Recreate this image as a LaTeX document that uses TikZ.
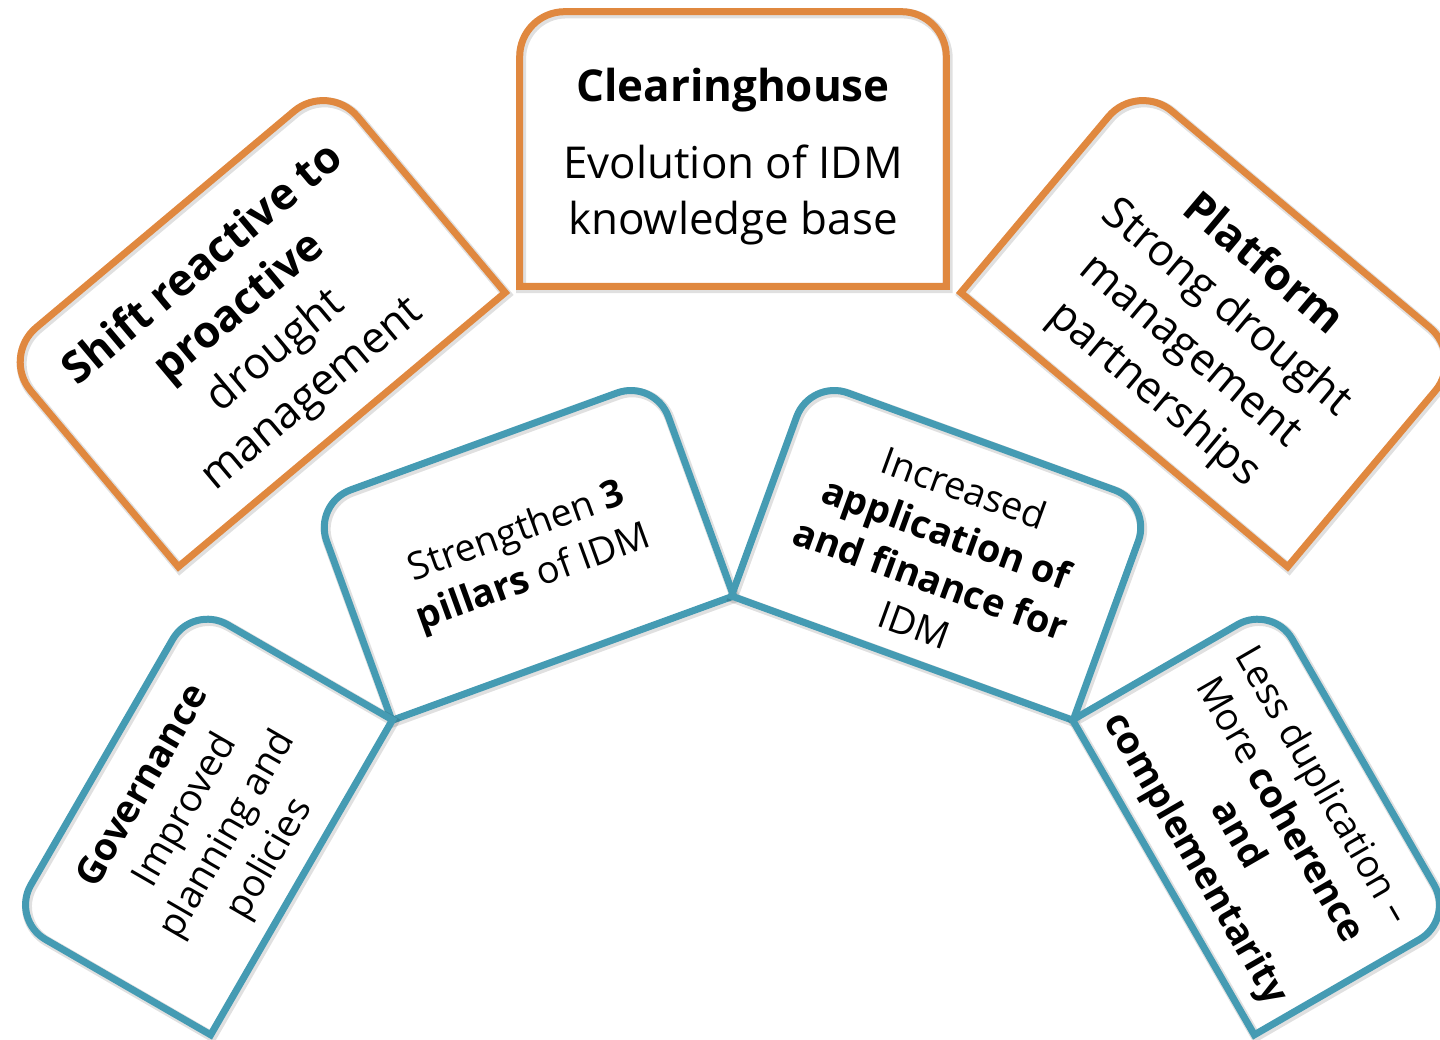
\documentclass[tikz,border=0pt]{standalone}
\usepackage{fontspec}
\setmainfont{Open Sans}
\definecolor{cardorange}{HTML}{E0883F}
\definecolor{cardblue}{HTML}{459BB3}
\newcommand{\toplift}{\rule{0pt}{1.1em}}

\begin{document}
\begin{tikzpicture}[
    x=0.02cm, y=-0.02cm,
    every node/.style={align=center, inner sep=0pt, text=black},
    bigcard/.style={minimum width=8.52cm, minimum height=5.48cm, font=\fontsize{25}{32}\selectfont},
    smallcard/.style={minimum width=7.26cm, minimum height=4.6cm, font=\fontsize{21.6}{27.7}\selectfont},
    tabshade/.style={preaction={draw=black, draw opacity=0.12, line width=0.2cm, transform canvas={shift={(0.8pt,-1pt)}}}},
    orangetab/.style={tabshade, draw=cardorange, line width=0.14cm},
    bluetab/.style={tabshade, draw=cardblue, line width=0.14cm}
]
\useasboundingbox (0,0) rectangle (1440,1040);

% Cards
\node [bigcard] (clearing) at (733,149) {\toplift\textbf{Clearinghouse}\\[12pt]Evolution of IDM\\knowledge base};
\node [bigcard, rotate=40] (shift) at (253.5,324.5) {\toplift\textbf{Shift reactive to}\\\textbf{proactive}\\drought\\management};
\node [bigcard, rotate=-40] (platform) at (1212.5,324.5) {\toplift\textbf{Platform}\\Strong drought\\management\\partnerships};
\node [smallcard, rotate=20] (pillars) at (523.3,549.8) {\toplift Strengthen \textbf{3}\\\textbf{pillars} of IDM};
\node [smallcard, rotate=-20] (finance) at (941.7,549.8) {\toplift Increased\\\textbf{application of}\\\textbf{and finance for}\\IDM};
\node [smallcard, rotate=60] (governance) at (201.7,819.7) {\toplift\textbf{Governance}\\Improved\\planning and\\policies};
\node [smallcard, rotate=-60] (duplication) at (1263.3,819.7) {\toplift Less duplication --\\More \textbf{coherence}\\\textbf{and}\\\textbf{complementarity}};

% Borders
\draw [orangetab] (clearing.south west) [rounded corners=0.9cm] -- (clearing.north west) -- (clearing.north east) [sharp corners] -- (clearing.south east) -- cycle;
\draw [orangetab] (shift.south west) [rounded corners=0.9cm] -- (shift.north west) -- (shift.north east) [sharp corners] -- (shift.south east) -- cycle;
\draw [orangetab] (platform.south west) [rounded corners=0.9cm] -- (platform.north west) -- (platform.north east) [sharp corners] -- (platform.south east) -- cycle;
\draw [bluetab] (pillars.south west) [rounded corners=0.8cm] -- (pillars.north west) -- (pillars.north east) [sharp corners] -- (pillars.south east) -- cycle;
\draw [bluetab] (finance.south west) [rounded corners=0.8cm] -- (finance.north west) -- (finance.north east) [sharp corners] -- (finance.south east) -- cycle;
\draw [bluetab] (governance.south west) [rounded corners=0.8cm] -- (governance.north west) -- (governance.north east) [sharp corners] -- (governance.south east) -- cycle;
\draw [bluetab] (duplication.south west) [rounded corners=0.8cm] -- (duplication.north west) -- (duplication.north east) [sharp corners] -- (duplication.south east) -- cycle;

\end{tikzpicture}
\end{document}
